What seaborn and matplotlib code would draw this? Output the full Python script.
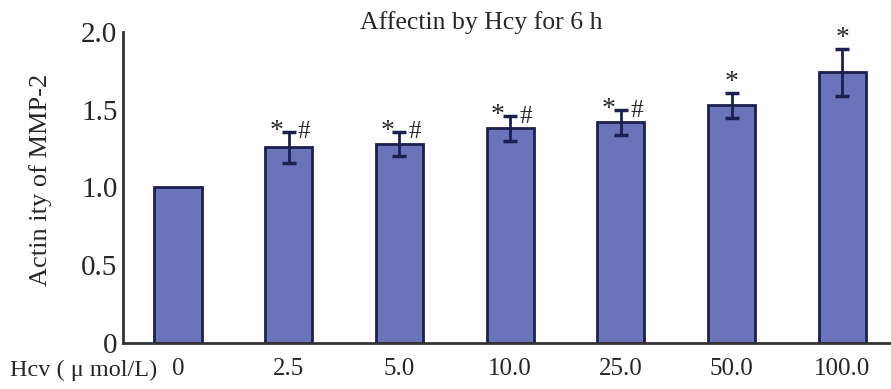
import matplotlib
matplotlib.use("Agg")
import matplotlib.pyplot as plt
import seaborn as sns
import numpy as np
import pandas as pd

# Data
categories = ["0", "2.5", "5.0", "10.0", "25.0", "50.0", "100.0"]
values = [1.00, 1.26, 1.28, 1.38, 1.42, 1.53, 1.74]
errors = [0.00, 0.10, 0.08, 0.08, 0.08, 0.08, 0.15]
marks_star = [False, True, True, True, True, True, True]
marks_hash = [False, True, True, True, True, False, False]
ytick_vals = [0, 0.5, 1.0, 1.5, 2.0]
ytick_labels = ["0", "0.5", "1.0", "1.5", "2.0"]

sns.set_style("white")
plt.rcParams['font.family'] = ['Liberation Serif', 'DejaVu Serif']

fig = plt.figure(figsize=(8.91, 3.89), dpi=100)
ax = fig.add_axes([123/891, 46/389, 1 - 123/891, 311/389])

df = pd.DataFrame({"conc": categories, "val": values})
bar_color = "#6b73b9"
edge_color = "#1b2050"
sns.barplot(data=df, x="conc", y="val", color=bar_color, edgecolor=edge_color,
            linewidth=2, width=0.425, errorbar=None, saturation=1, ax=ax)

xs = np.arange(len(categories))
ax.errorbar(xs[1:], values[1:], yerr=errors[1:], fmt="none", ecolor=edge_color,
            elinewidth=2, capsize=5, capthick=2.5)

for i, (v, e) in enumerate(zip(values, errors)):
    top = v + e
    if marks_star[i] and marks_hash[i]:
        ax.text(i - 0.11, top + 0.0, "*", ha="center", va="center", fontsize=20)
        ax.text(i + 0.14, top - 0.005, "#", ha="center", va="center", fontsize=18)
    elif marks_star[i]:
        ax.text(i, top + 0.065, "*", ha="center", va="center", fontsize=20)

ax.set_xlim(-0.497, 6.44)
ax.set_ylim(0, 2.0)
ax.set_yticks(ytick_vals)
ax.set_yticklabels(ytick_labels, fontsize=21)
ax.set_xticks(xs)
ax.set_xticklabels(categories, fontsize=18)
ax.set_xticks(xs[:-1] + 0.5, minor=True)
ax.tick_params(axis="x", which="major", length=0, pad=11)
ax.tick_params(axis="x", which="minor", direction="in", length=4, width=1.5, color="#333333")
ax.tick_params(axis="y", which="major", direction="in", length=6, width=1.5, color="#333333", pad=4)
ax.set_xlabel("")
ax.set_ylabel("Actin ity of MMP-2", fontsize=19)
ax.yaxis.set_label_coords(-0.093, 0.524)

for s in ["top", "right"]:
    ax.spines[s].set_visible(False)
for s in ["left", "bottom"]:
    ax.spines[s].set_color("#333333")
    ax.spines[s].set_linewidth(2)

ax.set_title("Affectin by Hcy for 6 h", fontsize=18.5, pad=2, x=0.467)

fig.text(10/891, 1 - 370/389, "Hcv ( \u03bc mol/L)", fontsize=17.5, ha="left", va="center")

fig.savefig("out.png", dpi=100)
